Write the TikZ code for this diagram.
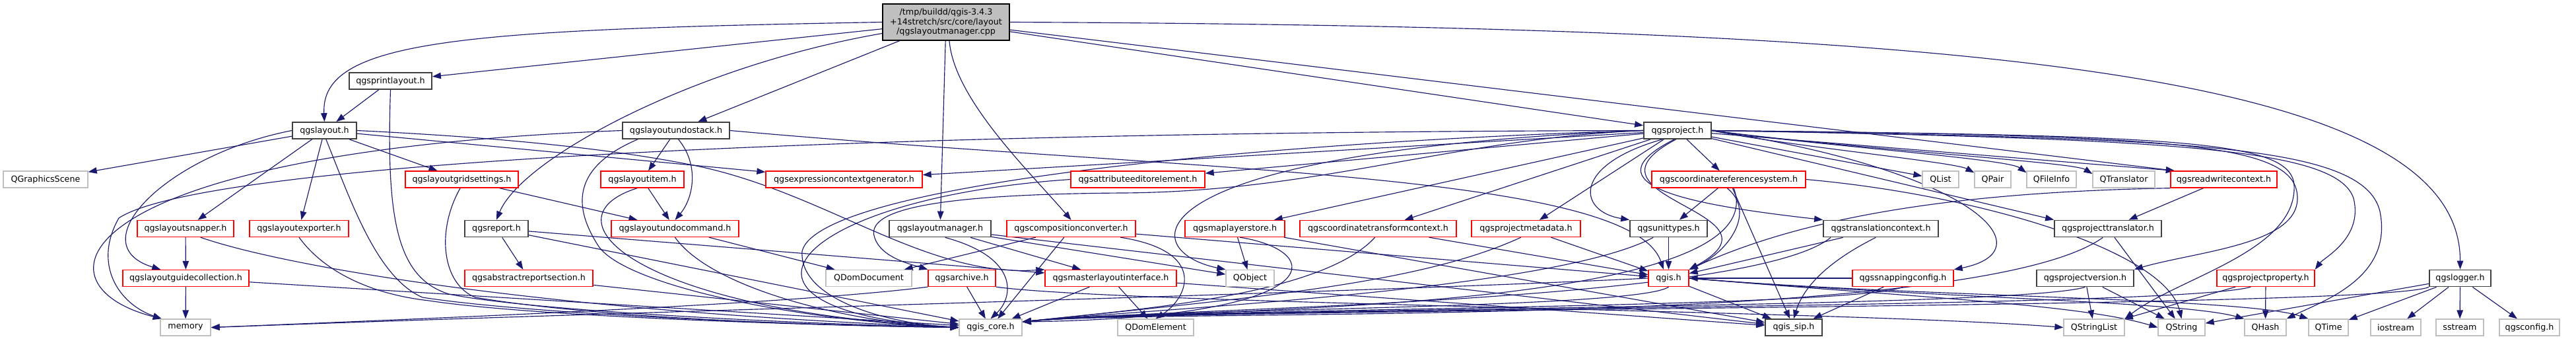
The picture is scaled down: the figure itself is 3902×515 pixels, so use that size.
\documentclass[tikz,border=0pt]{standalone}
\usepackage{fontspec}
\setmainfont{DejaVu Sans}
\usetikzlibrary{arrows.meta}
\definecolor{edgeblue}{HTML}{191970}
\definecolor{boxgray}{HTML}{BFBFBF}
\definecolor{boxdark}{HTML}{404040}
\definecolor{boxred}{HTML}{FF0000}
\newcommand{\dxfont}{\fontsize{12.7}{14.7}\selectfont}
\pgfdeclarelayer{bg}
\pgfsetlayers{bg,main}
\begin{document}
\begin{tikzpicture}[x=1pt,y=-1pt,
 box/.style={rectangle, inner sep=0pt, minimum height=25pt, font=\dxfont, line width=1.3pt, text=black, fill=white},
 rbox/.style={box, draw=boxred},
 gbox/.style={box, draw=boxgray},
 bbox/.style={box, draw=boxdark, line width=1.8pt},
 edge/.style={draw=edgeblue, line width=1.15pt, -{Triangle[length=13pt,width=9.5pt]}},
]
\useasboundingbox (0,0) rectangle (3902,515);
% nodes
\node[box, draw=black, fill=boxgray, minimum width=192pt, minimum height=55pt, align=center] (root) at (1433,33.5) {/tmp/buildd/qgis-3.4.3\\+14stretch/src/core/layout\\/qgslayoutmanager.cpp};
\node[bbox, minimum width=125pt] (printlayout) at (591.5,122.5) {qgsprintlayout.h};
\node[bbox, minimum width=97pt] (layout) at (491.5,197.5) {qgslayout.h};
\node[bbox, minimum width=162pt] (undostack) at (1024,197.5) {qgslayoutundostack.h};
\node[bbox, minimum width=102pt] (project) at (2541,197.5) {qgsproject.h};
\node[gbox, minimum width=128pt] (QGraphicsScene) at (69,271.5) {QGraphicsScene};
\node[rbox, minimum width=171pt] (gridsettings) at (699.5,271.5) {qgslayoutgridsettings.h};
\node[rbox, minimum width=126pt] (layoutitem) at (973,271.5) {qgslayoutitem.h};
\node[rbox, minimum width=237pt] (exprgen) at (1278.5,271.5) {qgsexpressioncontextgenerator.h};
\node[rbox, minimum width=203pt] (attreditor) at (1723.5,271.5) {qgsattributeeditorelement.h};
\node[rbox, minimum width=233pt] (crs) at (2618.5,271.5) {qgscoordinatereferencesystem.h};
\node[gbox, minimum width=55pt] (QList) at (2939.5,271.5) {QList};
\node[gbox, minimum width=55pt] (QPair) at (3018.5,271.5) {QPair};
\node[gbox, minimum width=75pt] (QFileInfo) at (3107.5,271.5) {QFileInfo};
\node[gbox, minimum width=94pt] (QTranslator) at (3217,271.5) {QTranslator};
\node[rbox, minimum width=161pt] (readwrite) at (3368.5,271.5) {qgsreadwritecontext.h};
\node[rbox, minimum width=146pt] (snapper) at (281,346) {qgslayoutsnapper.h};
\node[rbox, minimum width=150pt] (exporter) at (453,346) {qgslayoutexporter.h};
\node[bbox, minimum width=96pt] (report) at (752,346) {qgsreport.h};
\node[rbox, minimum width=193pt] (undocmd) at (1022.5,346) {qgslayoutundocommand.h};
\node[bbox, minimum width=154pt] (manager) at (1424,346) {qgslayoutmanager.h};
\node[rbox, minimum width=195pt] (compconv) at (1622.5,346) {qgscompositionconverter.h};
\node[rbox, minimum width=151pt] (mlstore) at (1870.5,346) {qgsmaplayerstore.h};
\node[rbox, minimum width=237pt] (ctc) at (2087.5,346) {qgscoordinatetransformcontext.h};
\node[rbox, minimum width=165pt] (projmeta) at (2311.5,346) {qgsprojectmetadata.h};
\node[bbox, minimum width=117pt] (unittypes) at (2527.5,346) {qgsunittypes.h};
\node[bbox, minimum width=174pt] (transctx) at (2849,346) {qgstranslationcontext.h};
\node[bbox, minimum width=162pt] (projtrans) at (3193,346) {qgsprojecttranslator.h};
\node[rbox, minimum width=191pt] (guidecoll) at (281.5,421) {qgslayoutguidecollection.h};
\node[rbox, minimum width=194pt] (abstractreport) at (801,421) {qgsabstractreportsection.h};
\node[gbox, minimum width=130pt] (QDomDocument) at (1316,421) {QDomDocument};
\node[rbox, minimum width=102pt] (archive) at (1457,421) {qgsarchive.h};
\node[rbox, minimum width=199pt] (masterlayout) at (1682.5,421) {qgsmasterlayoutinterface.h};
\node[gbox, minimum width=73pt] (QObject) at (1893.5,421) {QObject};
\node[rbox, minimum width=61pt] (qgis) at (2527.5,421) {qgis.h};
\node[rbox, minimum width=153pt] (snapcfg) at (2882.5,421) {qgssnappingconfig.h};
\node[bbox, minimum width=147pt] (projversion) at (3158.5,421) {qgsprojectversion.h};
\node[rbox, minimum width=148pt] (projprop) at (3432,421) {qgsprojectproperty.h};
\node[bbox, minimum width=93pt] (logger) at (3726.5,421) {qgslogger.h};
\node[gbox, minimum width=76pt] (memory) at (281,495.5) {memory};
\node[gbox, minimum width=95pt] (qgiscore) at (1500.5,495.5) {qgis\_core.h};
\node[gbox, minimum width=115pt] (QDomElement) at (1750.5,495.5) {QDomElement};
\node[bbox, minimum width=86pt] (qgissip) at (2717,495.5) {qgis\_sip.h};
\node[gbox, minimum width=92pt] (QStringList) at (3172,495.5) {QStringList};
\node[gbox, minimum width=71pt] (QString) at (3304.5,495.5) {QString};
\node[gbox, minimum width=63pt] (QHash) at (3431.5,495.5) {QHash};
\node[gbox, minimum width=60pt] (QTime) at (3527,495.5) {QTime};
\node[gbox, minimum width=76pt] (iostream) at (3629,495.5) {iostream};
\node[gbox, minimum width=72pt] (sstream) at (3726,495.5) {sstream};
\node[gbox, minimum width=91pt] (qgsconfig) at (3831.5,495.5) {qgsconfig.h};
\begin{pgfonlayer}{bg}
\fill[white] (0,0) rectangle (3902,515);
% root
\draw[edge] (root.west) .. controls (700,45) and (485,60) .. (layout.north);
\draw[edge] (root) -- (printlayout);
\draw[edge] (root.190) .. controls (1050,100) and (790,240) .. (report.north);
\draw[edge] (root) -- (undostack);
\draw[edge] (root) -- (manager);
\draw[edge] (root.-80) .. controls (1445,150) and (1560,260) .. (compconv.north);
\draw[edge] (root) -- (project);
\draw[edge] (root) -- (readwrite.170);
\draw[edge] (root.east) .. controls (3000,40) and (3727,110) .. (logger.north);
% printlayout
\draw[edge] (printlayout) -- (layout);
\draw[edge] (printlayout.south) .. controls (585,330) and (600,420) .. (680,445) .. controls (800,470) and (1200,490) .. (qgiscore.west);
% layout
\draw[edge] (layout) -- (QGraphicsScene);
\draw[edge] (layout) -- (snapper);
\draw[edge] (layout) -- (exporter);
\draw[edge] (layout.west) .. controls (250,235) and (120,370) .. (guidecoll.161);
\draw[edge] (layout) -- (gridsettings);
\draw[edge] (layout) -- (exprgen);
\draw[edge] (layout.east) .. controls (800,210) and (950,230) .. (1050,250) .. controls (1250,290) and (1400,420) .. (masterlayout.north west);
\draw[edge] (layout.-80) .. controls (530,300) and (570,420) .. (640,450) .. controls (800,475) and (1200,492) .. (qgiscore.west);
% snapper, exporter, guides, grid
\draw[edge] (snapper) -- (guidecoll);
\draw[edge] (snapper.-30) .. controls (420,400) and (800,470) .. (qgiscore.west);
\draw[edge] (exporter.south) .. controls (490,410) and (560,445) .. (650,455) .. controls (800,478) and (1200,492) .. (qgiscore.west);
\draw[edge] (guidecoll) -- (memory);
\draw[edge] (guidecoll) -- (qgiscore);
\draw[edge] (gridsettings) -- (undocmd);
\draw[edge] (gridsettings.-100) .. controls (660,350) and (670,430) .. (720,450) .. controls (900,480) and (1200,492) .. (qgiscore.west);
% report
\draw[edge] (report) -- (abstractreport);
\draw[edge] (report) -- (qgiscore);
\draw[edge] (report) -- (masterlayout);
\draw[edge] (abstractreport) -- (qgiscore);
% undostack
\draw[edge] (undostack) -- (layoutitem);
\draw[edge] (undostack.-75) .. controls (1060,250) and (1050,300) .. (undocmd.north);
\draw[edge] (undostack.west) .. controls (100,230) and (40,430) .. (memory.160);
\draw[edge] (undostack.-167) .. controls (850,260) and (880,330) .. (905,370) .. controls (940,430) and (1200,485) .. (qgiscore.west);
\draw[edge] (undostack.east) .. controls (1800,260) and (2470,260) .. (qgis.120);
% layoutitem, undocmd, attreditor
\draw[edge] (layoutitem) -- (undocmd);
\draw[edge] (layoutitem.-120) .. controls (820,330) and (960,470) .. (qgiscore.west);
\draw[edge] (undocmd) -- (QDomDocument);
\draw[edge] (undocmd.south) .. controls (1080,440) and (1300,490) .. (qgiscore.west);
\draw[edge] (attreditor.west) .. controls (1200,300) and (1050,470) .. (qgiscore.west);
% manager
\draw[edge] (manager) -- (masterlayout);
\draw[edge] (manager.-60) .. controls (1545,390) and (1535,450) .. (qgiscore.north);
\draw[edge] (manager) -- (QObject);
\draw[edge] (manager) -- (qgissip);
% compconv
\draw[edge] (compconv) -- (QDomDocument);
\draw[edge] (compconv.-10) .. controls (1830,380) and (1800,450) .. (QDomElement.north);
\draw[edge] (compconv) -- (qgiscore);
\draw[edge] (compconv) -- (qgis);
% masterlayout, archive
\draw[edge] (masterlayout) -- (qgiscore);
\draw[edge] (masterlayout) -- (QDomElement);
\draw[edge] (masterlayout) -- (qgissip);
\draw[edge] (archive) -- (qgiscore);
\draw[edge] (archive.south west) .. controls (1200,460) and (700,480) .. (memory.east);
\draw[edge] (archive.south east) .. controls (1700,460) and (2800,470) .. (QStringList.west);
% mlstore, ctc, projmeta, unittypes
\draw[edge] (mlstore) -- (QObject);
\draw[edge] (mlstore.-60) .. controls (2010,380) and (2020,480) .. (qgiscore.10);
\draw[edge] (mlstore) -- (qgissip);
\draw[edge] (ctc.-110) .. controls (2000,450) and (1700,470) .. (qgiscore.10);
\draw[edge] (ctc) -- (qgis);
\draw[edge] (projmeta.-120) .. controls (2150,430) and (1900,450) .. (qgiscore.10);
\draw[edge] (projmeta) -- (qgis);
\draw[edge] (unittypes) -- (qgis);
\draw[edge] (unittypes.-150) .. controls (2350,440) and (1760,466) .. (qgiscore.10);
% crs
\draw[edge] (crs) -- (unittypes);
\draw[edge] (crs.-100) .. controls (2660,320) and (2620,380) .. (qgis.north east);
\draw[edge] (crs) -- (qgissip);
\draw[edge] (crs.east) .. controls (3000,295) and (3280,380) .. (QString.north);
\draw[edge] (crs.-60) .. controls (2700,480) and (1760,466) .. (qgiscore.10);
% transctx
\draw[edge] (transctx.-120) .. controls (2760,400) and (2730,440) .. (qgissip.north);
\draw[edge] (transctx) -- (qgis);
\draw[edge] (transctx.-170) .. controls (2650,460) and (1760,466) .. (qgiscore.10);
% qgis
\draw[edge] (qgis) -- (qgissip);
\draw[edge] (qgis.east) .. controls (2900,450) and (3150,460) .. (QString.west);
\draw[edge] (qgis.east) .. controls (2900,450) and (3300,455) .. (QHash.north west);
\draw[edge] (qgis.east) .. controls (2900,450) and (3400,450) .. (QTime.north west);
\draw[edge] (qgis.west) .. controls (2000,445) and (1000,470) .. (memory.east);
\draw[edge] (qgis.south) .. controls (2480,468) and (1760,466) .. (qgiscore.10);
% snapcfg
\draw[edge] (snapcfg) -- (qgis);
\draw[edge] (snapcfg) -- (qgissip);
\draw[edge] (snapcfg.south) .. controls (2800,468) and (1760,466) .. (qgiscore.10);
% projtrans, projversion, projprop
\draw[edge] (projtrans) -- (QString);
\draw[edge] (projtrans.-120) .. controls (2990,500) and (1760,466) .. (qgiscore.10);
\draw[edge] (projversion) -- (QStringList);
\draw[edge] (projversion) -- (QString);
\draw[edge] (projversion.south) .. controls (3050,468) and (1760,466) .. (qgiscore.10);
\draw[edge] (projprop) -- (QHash);
\draw[edge] (projprop) -- (QStringList);
\draw[edge] (projprop.-150) .. controls (3300,468) and (1760,466) .. (qgiscore.10);
% logger
\draw[edge] (logger) -- (QTime);
\draw[edge] (logger) -- (iostream);
\draw[edge] (logger) -- (sstream);
\draw[edge] (logger) -- (qgsconfig);
\draw[edge] (logger) -- (QString);
\draw[edge] (logger.south west) .. controls (3600,468) and (1760,466) .. (qgiscore.10);
% readwrite
\draw[edge] (readwrite) -- (projtrans);
\draw[edge] (readwrite.south west) .. controls (3000,290) and (2750,320) .. (qgis.north east);
% project
\draw[edge] (project) -- (exprgen);
\draw[edge] (project) -- (attreditor);
\draw[edge] (project) -- (crs);
\draw[edge] (project) -- (QList);
\draw[edge] (project.east) .. controls (2700,220) and (2960,245) .. (QPair.160);
\draw[edge] (project.east) .. controls (2750,220) and (3040,240) .. (QFileInfo.165);
\draw[edge] (project.east) .. controls (2800,225) and (3140,245) .. (QTranslator.170);
\draw[edge] (project) -- (readwrite.170);
\draw[edge] (project.-150) .. controls (2380,250) and (2390,320) .. (unittypes.north west);
\draw[edge] (project.-110) .. controls (2400,280) and (2560,310) .. (transctx.north west);
\draw[edge] (project) -- (projtrans.north west);
\draw[edge] (project.east) .. controls (3000,260) and (3100,380) .. (snapcfg.north east);
\draw[edge] (project.east) .. controls (3300,205) and (3480,215) .. (3480,300) .. controls (3480,370) and (3330,380) .. (projversion.north east);
\draw[edge] (project.east) .. controls (3300,210) and (3540,225) .. (3565,300) .. controls (3580,360) and (3520,390) .. (projprop.north east);
\draw[edge] (project.east) .. controls (3300,210) and (3580,215) .. (3605,320) .. controls (3625,420) and (3520,455) .. (QHash.north east);
\draw[edge] (project.east) .. controls (3300,205) and (3470,212) .. (3475,280) .. controls (3480,380) and (3300,420) .. (QStringList.north east);
\draw[edge] (project) -- (mlstore);
\draw[edge] (project) -- (ctc);
\draw[edge] (project) -- (projmeta);
\draw[edge] (project.-100) .. controls (2370,300) and (2720,320) .. (qgis.north east);
\draw[edge] (project.west) .. controls (1900,215) and (1240,280) .. (1215,380) .. controls (1210,455) and (1350,490) .. (qgiscore.west);
\draw[edge] (project.west) .. controls (1200,200) and (300,250) .. (180,330) .. controls (140,400) and (180,460) .. (memory.160);
\draw[edge] (project.west) .. controls (1700,230) and (1720,380) .. (QObject.north west);
\draw[edge] (project.west) .. controls (2200,210) and (2000,290) .. (1700,292) .. controls (1400,294) and (1310,320) .. (1325,360) .. controls (1335,390) and (1380,400) .. (archive.north west);
\end{pgfonlayer}
\end{tikzpicture}
\end{document}
